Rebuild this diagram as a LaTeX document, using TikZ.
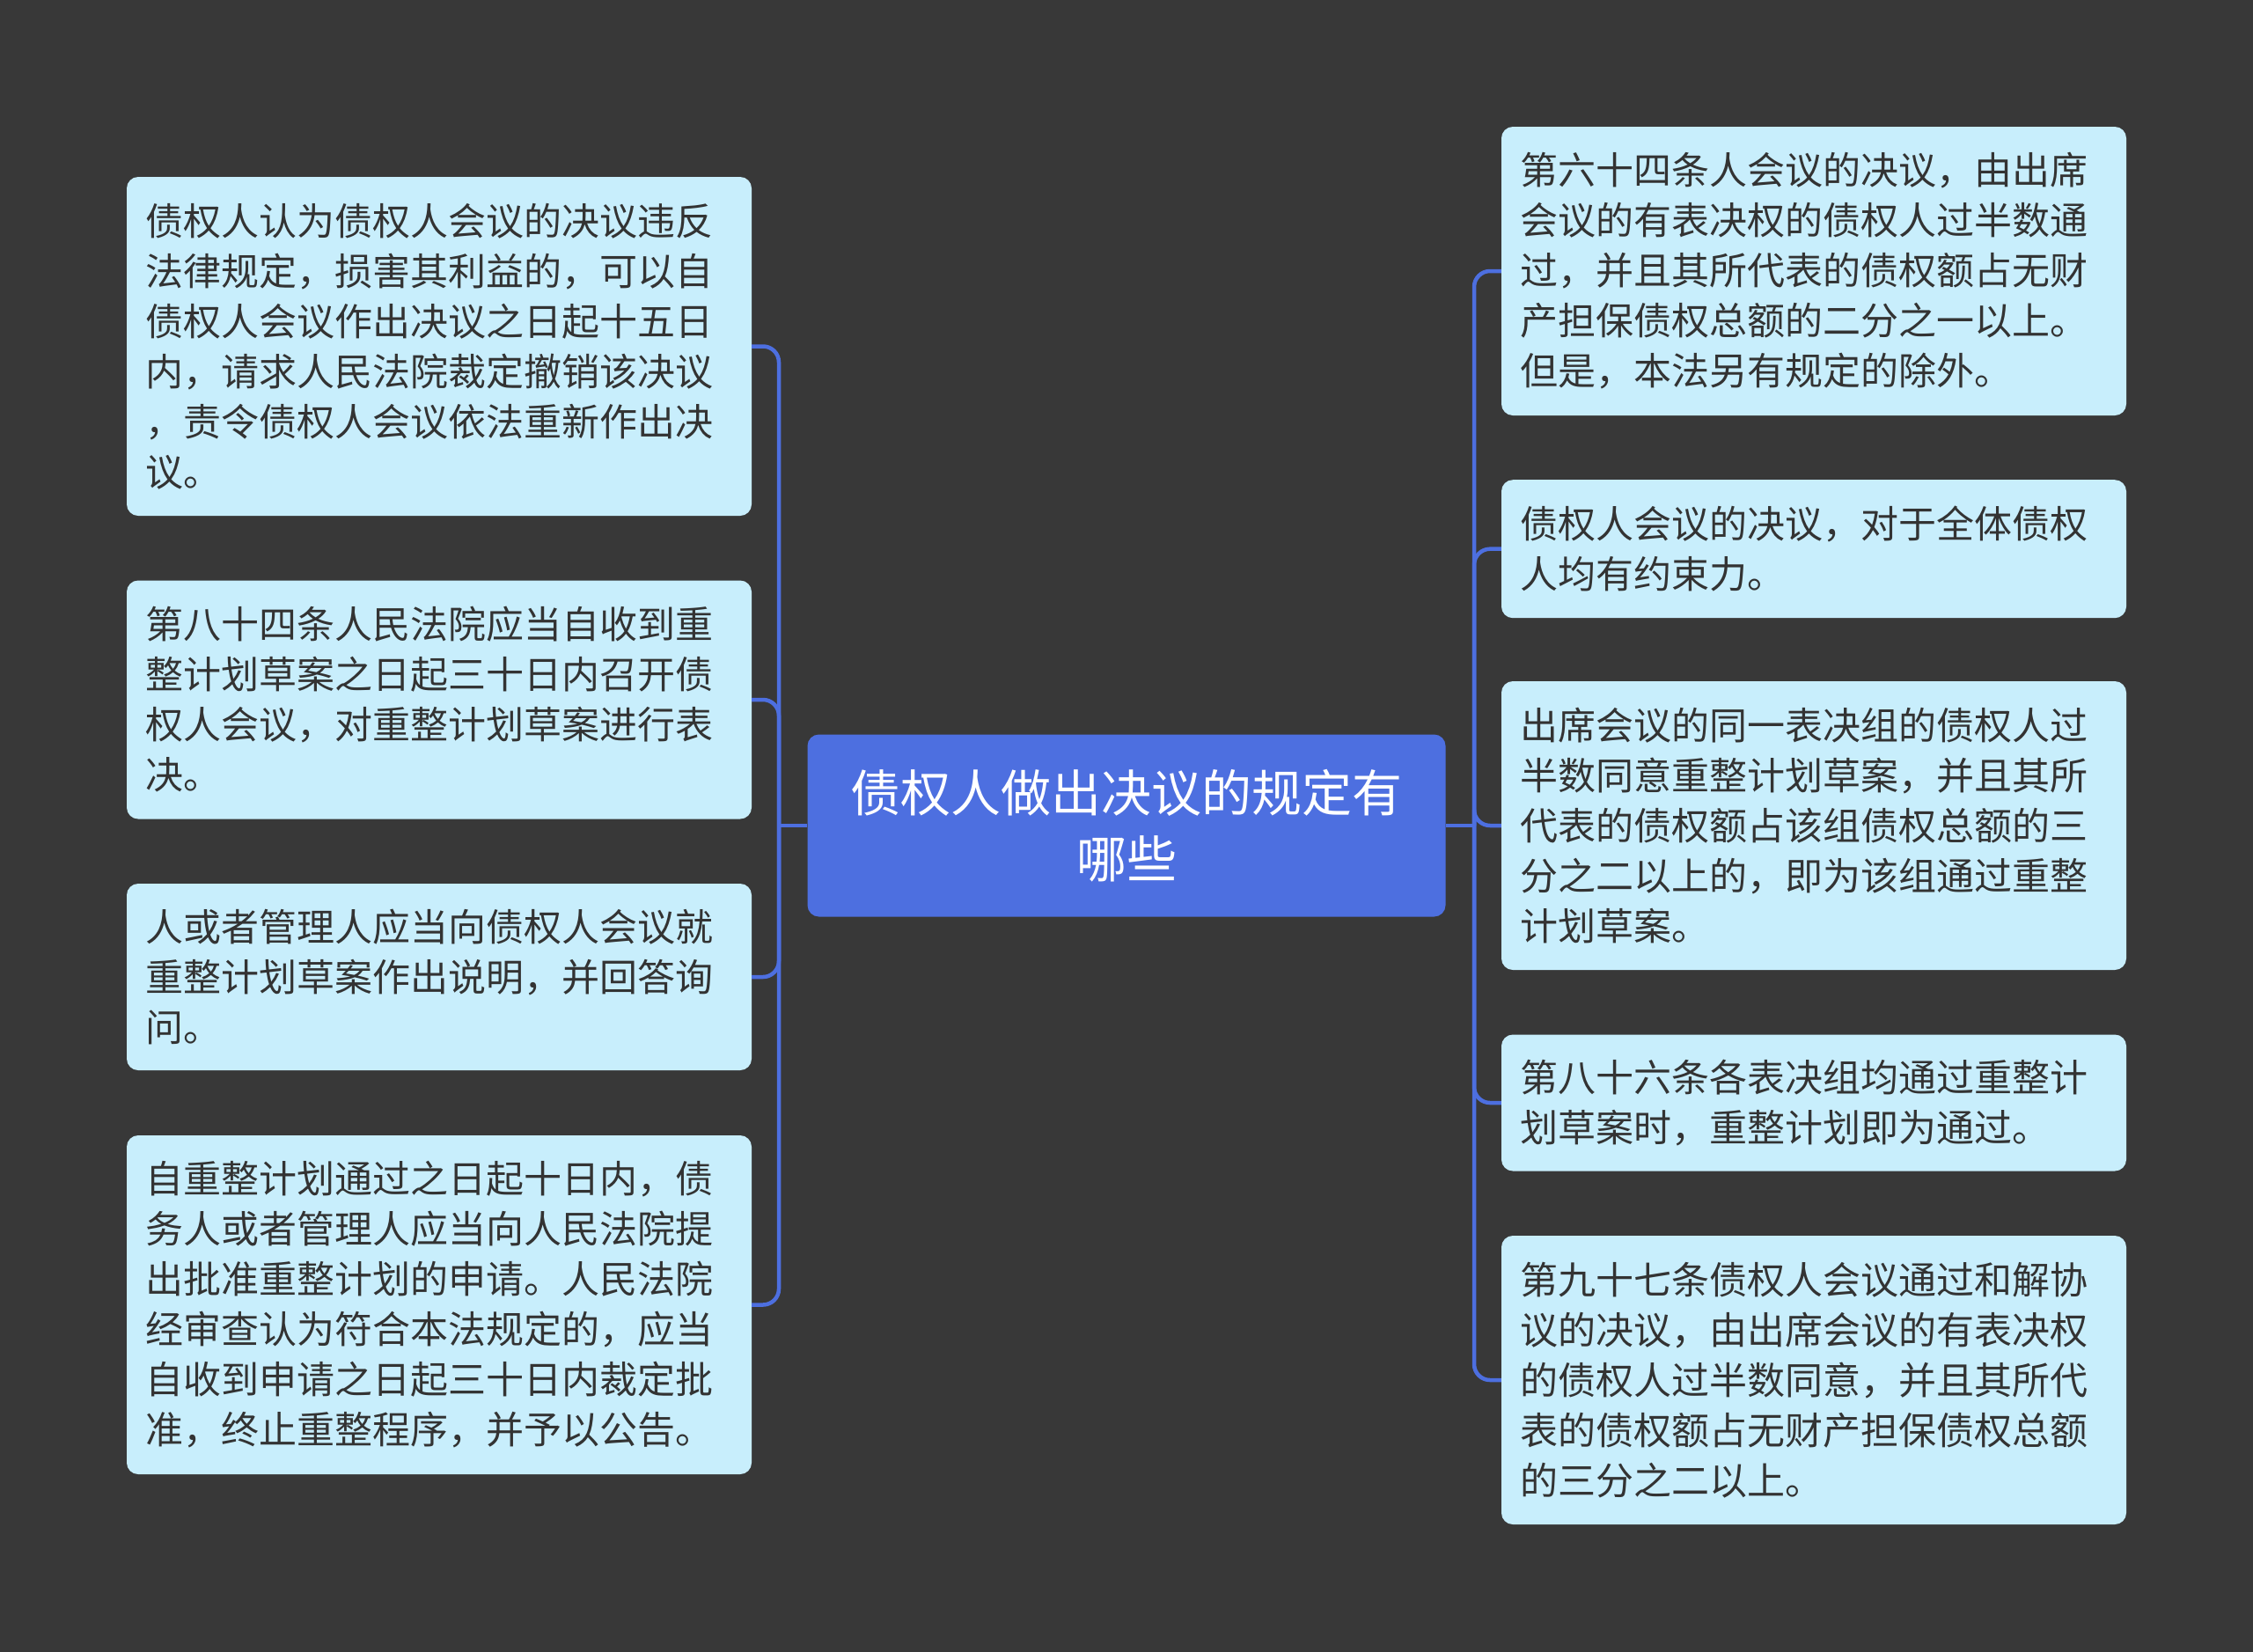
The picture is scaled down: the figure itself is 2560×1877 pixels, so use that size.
\documentclass[tikz,border=0pt]{standalone}
\usepackage{fontspec}
\setmainfont{Noto Sans CJK SC}
\definecolor{bgc}{HTML}{383838}
\definecolor{leaf}{HTML}{C8EEFC}
\definecolor{txt}{HTML}{333333}
\definecolor{mainc}{HTML}{4D6FE0}
\tikzset{
  leafbox/.style={draw=none, fill=leaf, rounded corners=13pt, minimum width=710pt, text width=668pt, inner sep=0pt, align=left, text=txt, font=\fontsize{43}{57}\selectfont, anchor=center},
  rootbox/.style={draw=none, fill=mainc, rounded corners=13pt, minimum width=725pt, minimum height=207pt, text width=690pt, inner sep=0pt, align=center, text=white, font=\fontsize{57}{75}\selectfont},
  conn/.style={draw=mainc, line width=4.5pt, rounded corners=18pt},
}
\begin{document}
\begin{tikzpicture}[x=1pt,y=-1pt]
\fill[bgc] (0,0) rectangle (2560,1877);
\useasboundingbox (0,0) rectangle (2560,1877);

\node[rootbox] (c) at (1280,938) {债权人做出决议的规定有\\哪些};

% left nodes
\node[leafbox, minimum height=385pt] (l1) at (499,393.5) {债权人认为债权人会议的决议违反\\法律规定，损害其利益的，可以自\\债权人会议作出决议之日起十五日\\内，请求人民法院裁定撤销该决议\\，责令债权人会议依法重新作出决\\议。};
\node[leafbox, minimum height=271pt] (l2) at (499,795) {第八十四条人民法院应当自收到重\\整计划草案之日起三十日内召开债\\权人会议，对重整计划草案进行表\\决。};
\node[leafbox, minimum height=212pt] (l3) at (499,1110) {人或者管理人应当向债权人会议就\\重整计划草案作出说明，并回答询\\问。};
\node[leafbox, minimum height=385pt] (l4) at (499,1482.5) {自重整计划通过之日起十日内，债\\务人或者管理人应当向人民法院提\\出批准重整计划的申请。人民法院\\经审查认为符合本法规定的，应当\\自收到申请之日起三十日内裁定批\\准，终止重整程序，并予以公告。};

% right nodes
\node[leafbox, minimum height=328pt] (r1) at (2061,308) {第六十四条人会议的决议，由出席\\会议的有表决权的债权人过半数通\\过，并且其所代表的债权额占无财\\产担保债权总额的二分之一以上。\\但是，本法另有规定的除外。};
\node[leafbox, minimum height=157pt] (r2) at (2061,623.7) {债权人会议的决议，对于全体债权\\人均有约束力。};
\node[leafbox, minimum height=328pt] (r3) at (2061,938) {出席会议的同一表决组的债权人过\\半数同意重整计划草案，并且其所\\代表的债权额占该组债权总额的三\\分之二以上的，即为该组通过重整\\计划草案。};
\node[leafbox, minimum height=155pt] (r4) at (2061,1253) {第八十六条各表决组均通过重整计\\划草案时，重整计划即为通过。};
\node[leafbox, minimum height=328pt] (r5) at (2061,1568) {第九十七条债权人会议通过和解协\\议的决议，由出席会议的有表决权\\的债权人过半数同意，并且其所代\\表的债权额占无财产担保债权总额\\的三分之二以上。};

\coordinate (lj) at (885,938);
\coordinate (rj) at (1675,938);

\draw[conn] (lj) -- (c.west);
\draw[conn] (rj) -- (c.east);
\foreach \n in {l1,l2,l3,l4} { \draw[conn] (\n.east) -| (lj); }
\foreach \n in {r1,r2,r3,r4,r5} { \draw[conn] (\n.west) -| (rj); }
\end{tikzpicture}
\end{document}
